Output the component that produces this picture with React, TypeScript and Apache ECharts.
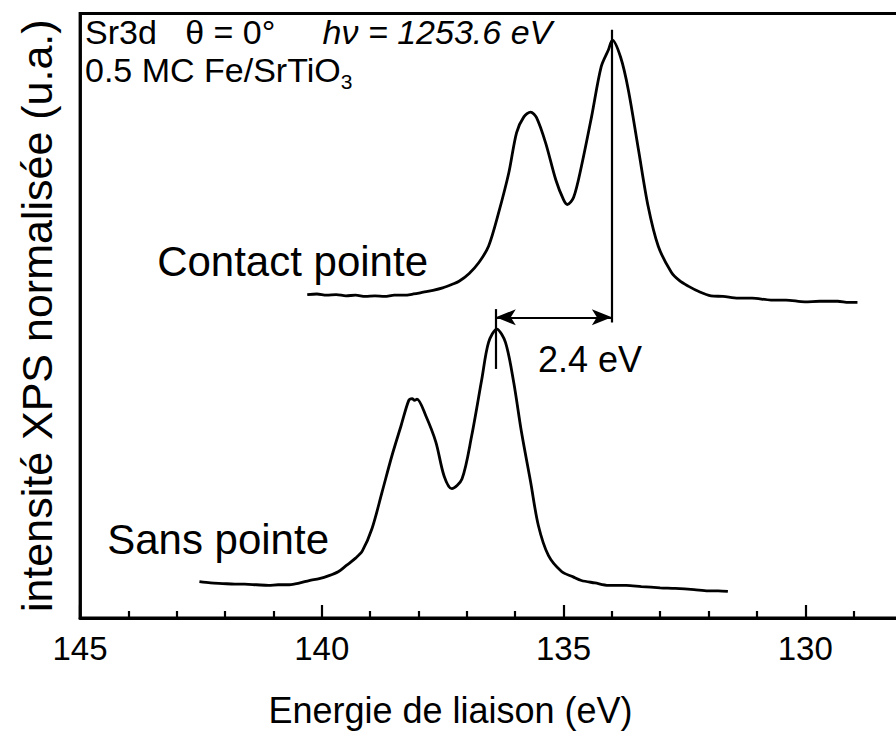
import React, { useEffect, useRef } from 'react';
import * as echarts from 'echarts';

// Binding energy (eV) / normalised intensity (a.u., 0..100 axis units)
const contactEnergy = [140.3, 140.1, 139.9, 139.7, 139.5, 139.3, 139.1, 138.9, 138.7, 138.5, 138.3, 138.1, 137.9, 137.7, 137.5, 137.3, 137.16, 136.95, 136.75, 136.55, 136.34, 136.13, 135.97, 135.82, 135.68, 135.56, 135.37, 135.16, 135.0, 134.92, 134.79, 134.63, 134.42, 134.22, 134.07, 133.99, 133.82, 133.66, 133.45, 133.25, 133.04, 132.77, 132.6, 132.42, 132.2, 131.95, 131.7, 131.39, 131.1, 130.71, 130.4, 130.01, 129.7, 129.33, 129.1, 128.92];
const contactIntensity = [53.5, 53.6, 53.4, 53.5, 53.3, 53.4, 53.2, 53.3, 53.2, 53.4, 53.4, 53.6, 53.9, 54.2, 54.6, 55.2, 55.7, 57.0, 58.8, 61.5, 67.1, 73.7, 80.3, 82.9, 83.7, 82.8, 78.6, 72.5, 69.2, 68.4, 69.6, 74.7, 82.9, 91.2, 94.0, 95.6, 92.8, 87.4, 77.5, 68.1, 61.5, 57.2, 55.8, 54.9, 54.0, 53.3, 53.2, 52.9, 52.9, 52.6, 52.6, 52.3, 52.4, 52.4, 52.2, 52.2];

const sansEnergy = [142.53, 142.3, 142.05, 141.8, 141.6, 141.35, 141.1, 140.9, 140.67, 140.45, 140.26, 140.05, 139.85, 139.65, 139.49, 139.3, 139.16, 138.96, 138.75, 138.55, 138.36, 138.2, 138.13, 138.08, 138.03, 137.85, 137.64, 137.47, 137.31, 137.1, 136.9, 136.69, 136.55, 136.38, 136.2, 136.03, 135.87, 135.68, 135.52, 135.31, 135.04, 134.8, 134.63, 134.35, 134.07, 133.7, 133.39, 133.0, 132.69, 132.3, 132.01, 131.8, 131.6];
const sansIntensity = [6.0, 5.8, 5.7, 5.6, 5.6, 5.5, 5.4, 5.5, 5.5, 5.8, 6.2, 6.5, 7.0, 7.7, 8.7, 9.9, 11.1, 14.8, 20.9, 26.8, 31.8, 36.0, 36.3, 36.0, 36.2, 33.5, 29.1, 23.5, 21.4, 23.0, 30.1, 39.5, 45.6, 47.8, 45.6, 39.0, 30.8, 22.5, 15.3, 10.3, 7.7, 6.8, 6.2, 5.8, 5.4, 5.4, 5.2, 5.0, 4.9, 4.7, 4.5, 4.5, 4.4];

const xTickValues = [145, 140, 135, 130];
const peakContact = 134.0;
const peakSans = 136.4;
const contactMarkerRange = [97.3, 48.9];
const sansMarkerRange = [51.1, 41.2];
const arrowLevel = 49.75;

const xTitle = 'Energie de liaison (eV)';
const yTitle = 'intensité XPS normalisée (u.a.)';
const labelContact = 'Contact pointe';
const labelSans = 'Sans pointe';
const labelShift = '2.4 eV';

const SANS = "'Liberation Sans', Arial, Helvetica, sans-serif";

export default function App() {
  const ref = useRef<HTMLDivElement>(null);
  useEffect(() => {
    document.body.style.margin = '0';
    const chart = echarts.init(ref.current!, null, { renderer: 'svg' });
    const toPairs = (xs: number[], ys: number[]) => xs.map((x, i) => [x, ys[i]]);
    chart.setOption({
      animation: false,
      backgroundColor: '#fff',
      grid: {
        left: 80,
        top: 13.5,
        bottom: 113.5,
        right: 0,
        show: true,
        borderColor: '#000',
        borderWidth: 2.8,
        backgroundColor: 'transparent',
      },
      xAxis: {
        type: 'value',
        min: 125,
        max: 145,
        interval: 5,
        inverse: true,
        name: xTitle,
        nameLocation: 'middle',
        nameGap: 74,
        nameTextStyle: {
          fontFamily: SANS,
          fontSize: 36,
          color: '#000',
          padding: [0, 226, 0, 0],
        },
        axisLine: { show: true, lineStyle: { color: '#000', width: 2.8 } },
        axisTick: { show: true, inside: true, length: 13, lineStyle: { color: '#000', width: 2.2 } },
        minorTick: { show: true, splitNumber: 5, length: 7, lineStyle: { color: '#000', width: 2.2 } },
        splitLine: { show: false },
        axisLabel: {
          fontFamily: SANS,
          fontSize: 33,
          color: '#000',
          margin: 14,
          formatter: (v: number) => (xTickValues.includes(v) ? String(v) : ''),
        },
      },
      yAxis: {
        type: 'value',
        min: 0,
        max: 100,
        name: yTitle,
        nameLocation: 'middle',
        nameGap: 22,
        nameTextStyle: { fontFamily: SANS, fontSize: 43, color: '#000' },
        axisLine: { show: true, lineStyle: { color: '#000', width: 2.8 } },
        axisTick: { show: false },
        axisLabel: { show: false },
        splitLine: { show: false },
      },
      series: [
        {
          name: labelContact,
          type: 'line',
          data: toPairs(contactEnergy, contactIntensity),
          showSymbol: false,
          smooth: 0.3,
          lineStyle: { color: '#000', width: 2.8 },
          silent: true,
        },
        {
          name: labelSans,
          type: 'line',
          data: toPairs(sansEnergy, sansIntensity),
          showSymbol: false,
          smooth: 0.3,
          lineStyle: { color: '#000', width: 2.8 },
          silent: true,
        },
        {
          name: 'markers',
          type: 'line',
          data: [],
          silent: true,
          markLine: {
            silent: true,
            animation: false,
            label: { show: false },
            lineStyle: { color: '#000', width: 2.2, type: 'solid' },
            symbol: ['none', 'none'],
            data: [
              [
                { coord: [peakContact, contactMarkerRange[0]] },
                { coord: [peakContact, contactMarkerRange[1]] },
              ],
              [
                { coord: [peakSans, sansMarkerRange[0]] },
                { coord: [peakSans, sansMarkerRange[1]] },
              ],
              [
                { coord: [peakSans, arrowLevel], symbol: 'arrow', symbolSize: [12, 20] },
                { coord: [peakContact, arrowLevel], symbol: 'arrow', symbolSize: [12, 20] },
              ],
            ],
          },
        },
      ],
      graphic: [
        {
          type: 'text',
          x: 85,
          y: 32,
          style: {
            text: '{a|Sr3d   θ = 0°     }{b|hν = 1253.6 eV}',
            verticalAlign: 'middle',
            rich: {
              a: { fontFamily: SANS, fontSize: 34, fill: '#000', lineHeight: 30 },
              b: { fontFamily: SANS, fontSize: 34, fontStyle: 'italic', fill: '#000', lineHeight: 30 },
            },
          },
        },
        {
          type: 'text',
          x: 85,
          y: 70,
          style: {
            text: '{a|0.5 MC Fe/SrTiO}{s|3}',
            verticalAlign: 'middle',
            rich: {
              a: { fontFamily: SANS, fontSize: 34, fill: '#000', lineHeight: 30 },
              s: { fontFamily: SANS, fontSize: 21, fill: '#000', lineHeight: 44, verticalAlign: 'bottom' },
            },
          },
        },
        {
          type: 'text',
          x: 428,
          y: 261,
          style: { text: labelContact, fontFamily: SANS, fontSize: 42, fill: '#000', align: 'right', verticalAlign: 'middle' },
        },
        {
          type: 'text',
          x: 329,
          y: 539,
          style: { text: labelSans, fontFamily: SANS, fontSize: 42, fill: '#000', align: 'right', verticalAlign: 'middle' },
        },
        {
          type: 'text',
          x: 590,
          y: 359,
          style: { text: labelShift, fontFamily: SANS, fontSize: 36, fill: '#000', align: 'center', verticalAlign: 'middle' },
        },
      ],
    });
    return () => chart.dispose();
  }, []);
  return (
    <div style={{ width: 896, height: 733, overflow: 'hidden', position: 'relative' }}>
      <div ref={ref} style={{ width: 1050, height: 733 }} />
    </div>
  );
}
